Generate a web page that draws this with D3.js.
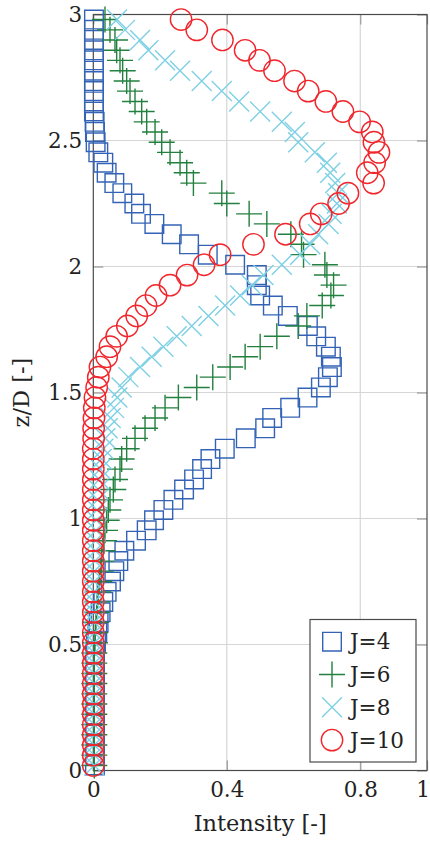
<!DOCTYPE html>
<html><head><meta charset="utf-8">
<script src="https://cdn.jsdelivr.net/npm/d3@7"></script>
<style>html,body{margin:0;padding:0;background:#fff;} svg{display:block;font-family:"DejaVu Serif",serif;}</style>
</head><body><svg id="c" width="430" height="843"></svg>
<script>
// z/D positions shared by all series (bottom to top)
const zValues = [0.020,0.061,0.101,0.142,0.182,0.223,0.264,0.304,0.345,0.385,
 0.426,0.466,0.507,0.547,0.588,0.628,0.669,0.709,0.750,0.791,
 0.831,0.872,0.912,0.953,0.993,1.034,1.074,1.115,1.155,1.196,
 1.236,1.277,1.318,1.358,1.399,1.439,1.480,1.520,1.561,1.601,
 1.642,1.682,1.723,1.764,1.804,1.845,1.885,1.926,1.966,2.007,
 2.047,2.088,2.128,2.169,2.209,2.250,2.291,2.331,2.372,2.412,
 2.453,2.493,2.534,2.574,2.615,2.655,2.696,2.736,2.777,2.818,
 2.858,2.899,2.939,2.980];
const j4 = [0.005,0.005,0.005,0.005,0.005,0.005,0.005,0.005,0.005,0.005,
 0.005,0.005,0.008,0.012,0.016,0.022,0.030,0.040,0.053,0.063,
 0.075,0.093,0.128,0.160,0.182,0.210,0.240,0.272,0.302,0.326,
 0.351,0.394,0.457,0.515,0.536,0.590,0.642,0.682,0.703,0.715,
 0.712,0.697,0.668,0.643,0.583,0.538,0.500,0.490,0.490,0.425,
 0.343,0.287,0.235,0.183,0.143,0.123,0.087,0.063,0.040,0.030,
 0.015,0.007,0.005,0.004,0.002,0.002,0.002,0.002,0.002,0.002,
 0.002,0.002,0.002,0.002];
const j6 = [0.003,0.003,0.003,0.003,0.003,0.003,0.003,0.003,0.003,0.003,
 0.003,0.003,0.005,0.006,0.008,0.010,0.012,0.015,0.018,0.022,
 0.025,0.028,0.032,0.035,0.040,0.045,0.050,0.060,0.065,0.080,
 0.085,0.100,0.125,0.155,0.185,0.215,0.255,0.310,0.358,0.410,
 0.455,0.500,0.550,0.614,0.640,0.686,0.712,0.720,0.700,0.694,
 0.630,0.624,0.592,0.520,0.467,0.400,0.385,0.300,0.280,0.260,
 0.230,0.205,0.185,0.160,0.145,0.125,0.110,0.100,0.088,0.080,
 0.070,0.065,0.050,0.035];
const j8 = [0.003,0.003,0.003,0.003,0.003,0.003,0.003,0.003,0.003,0.003,
 0.003,0.003,0.003,0.003,0.003,0.003,0.003,0.003,0.003,0.003,
 0.005,0.006,0.007,0.008,0.009,0.011,0.013,0.015,0.018,0.021,
 0.025,0.030,0.036,0.043,0.052,0.062,0.072,0.085,0.105,0.140,
 0.175,0.210,0.250,0.295,0.345,0.395,0.440,0.475,0.510,0.565,
 0.620,0.650,0.674,0.705,0.714,0.730,0.734,0.725,0.710,0.700,
 0.664,0.614,0.604,0.565,0.500,0.437,0.385,0.325,0.260,0.215,
 0.165,0.140,0.095,0.071];
const j10 = [0.000,0.000,0.000,0.000,0.000,0.000,0.000,0.000,0.000,0.000,
 0.000,0.000,0.000,0.000,0.000,0.000,0.000,0.000,0.000,0.000,
 0.000,0.000,0.000,0.000,0.000,0.000,0.000,0.000,0.000,0.000,
 0.000,0.000,0.001,0.001,0.002,0.003,0.005,0.010,0.015,0.020,
 0.040,0.050,0.070,0.102,0.130,0.158,0.188,0.230,0.281,0.332,
 0.380,0.480,0.576,0.650,0.683,0.735,0.763,0.840,0.821,0.843,
 0.856,0.841,0.836,0.798,0.748,0.697,0.644,0.603,0.543,0.498,
 0.455,0.387,0.310,0.263];
const seriesNames = ["J=4","J=6","J=8","J=10"];
const xTicks = [0,0.4,0.8,1];
const xTickLabels = ["0","0.4","0.8","1"];
const yTicks = [0,0.5,1,1.5,2,2.5,3];
const yTickLabels = ["0","0.5","1","1.5","2","2.5","3"];
const xGrid = [0.4,0.8];
const yGrid = [0.5,1,1.5,2,2.5];
const xLabel = "Intensity [-]";
const yLabel = "z/D [-]";

const W = 430, H = 843;
const m = {l:93.3, r:3, t:14.5, b:72.5};
const x = d3.scaleLinear().domain([0,1]).range([m.l, W - m.r]);
const y = d3.scaleLinear().domain([0,3]).range([H - m.b, m.t]);
const svg = d3.select("#c");
const textCol = "#222";
const fs = 21.5;
const fsTitle = 22.5;

// grid
svg.append("g").selectAll("line").data(xGrid).join("line")
  .attr("x1", d => x(d)).attr("x2", d => x(d)).attr("y1", y(0)).attr("y2", y(3))
  .attr("stroke", "#d6d6d6").attr("stroke-width", 1.2);
svg.append("g").selectAll("line").data(yGrid).join("line")
  .attr("y1", d => y(d)).attr("y2", d => y(d)).attr("x1", x(0)).attr("x2", x(1))
  .attr("stroke", "#d6d6d6").attr("stroke-width", 1.2);

// axes with inward ticks
function styleAxis(g){
  g.select(".domain").remove();
  g.selectAll(".tick line").attr("stroke", "#9a9a9a").attr("stroke-width", 1.2);
  g.selectAll(".tick text").attr("fill", textCol).attr("font-size", fs)
    .attr("font-family", "'DejaVu Serif', serif");
}
const xAxisG = svg.append("g").attr("transform", `translate(0,${y(0)})`)
  .call(d3.axisBottom(x).tickValues(xTicks).tickFormat((d,i) => xTickLabels[i])
    .tickSizeInner(-10).tickSizeOuter(0).tickPadding(11.5))
  .call(styleAxis);
// keep the last label ("1") inside the page, as in the reference
xAxisG.selectAll(".tick text").filter(d => d === 1)
  .attr("text-anchor", "end").attr("x", 2.5);
svg.append("g").attr("transform", `translate(${x(0)},0)`)
  .call(d3.axisLeft(y).tickValues(yTicks).tickFormat((d,i) => yTickLabels[i])
    .tickSizeInner(-10).tickSizeOuter(0).tickPadding(11))
  .call(styleAxis);
svg.append("g").attr("transform", `translate(0,${y(3)})`)
  .call(d3.axisTop(x).tickValues(xTicks).tickFormat("").tickSizeInner(-10).tickSizeOuter(0))
  .call(styleAxis);
svg.append("g").attr("transform", `translate(${x(1)},0)`)
  .call(d3.axisRight(y).tickValues(yTicks).tickFormat("").tickSizeInner(-10).tickSizeOuter(0))
  .call(styleAxis);

// frame
svg.append("rect").attr("x", x(0)).attr("y", y(3)).attr("width", x(1) - x(0)).attr("height", y(0) - y(3))
  .attr("fill", "none").attr("stroke", "#4a4a4a").attr("stroke-width", 1.2);

// marker shapes
const styles = [
  {color:"#3463b6", path:"M-9.3,-9.3H9.3V9.3H-9.3Z"},
  {color:"#23803f", path:"M-13,0H13M0,-13V13"},
  {color:"#7dd0e4", path:"M-10,-10L10,10M-10,10L10,-10"},
  {color:"#f0262c", path:"M10.7,0A10.7,10.7 0 1,1 -10.7,0A10.7,10.7 0 1,1 10.7,0Z"}
];
const seriesData = [j4, j6, j8, j10];
seriesData.forEach((vals, si) => {
  svg.append("g").selectAll("path").data(vals.map((v,i) => ({v, z:zValues[i]}))).join("path")
    .attr("transform", d => `translate(${x(d.v)},${y(d.z)})`)
    .attr("d", styles[si].path)
    .attr("fill", "none").attr("stroke", styles[si].color).attr("stroke-width", 1.4);
});

// legend
const lg = svg.append("g");
lg.append("rect").attr("x", 310).attr("y", 619.5).attr("width", 106).attr("height", 142.5)
  .attr("fill", "#fff").attr("stroke", "#4a4a4a").attr("stroke-width", 1.2);
seriesNames.forEach((name, i) => {
  const cy = 641.7 + i * 32.8;
  lg.append("path").attr("transform", `translate(332,${cy})`).attr("d", styles[i].path)
    .attr("fill", "none").attr("stroke", styles[i].color).attr("stroke-width", 1.4);
  lg.append("text").attr("x", 350).attr("y", cy).attr("dy", "0.36em")
    .attr("font-size", fs).attr("fill", textCol).text(name);
});

// axis titles
svg.append("text").attr("x", (x(0) + x(1)) / 2).attr("y", 831).attr("text-anchor", "middle")
  .attr("font-size", fsTitle).attr("fill", textCol).text(xLabel);
svg.append("text").attr("transform", `translate(29,${(y(0) + y(3)) / 2}) rotate(-90)`)
  .attr("text-anchor", "middle").attr("font-size", fsTitle).attr("fill", textCol).text(yLabel);
</script></body></html>
